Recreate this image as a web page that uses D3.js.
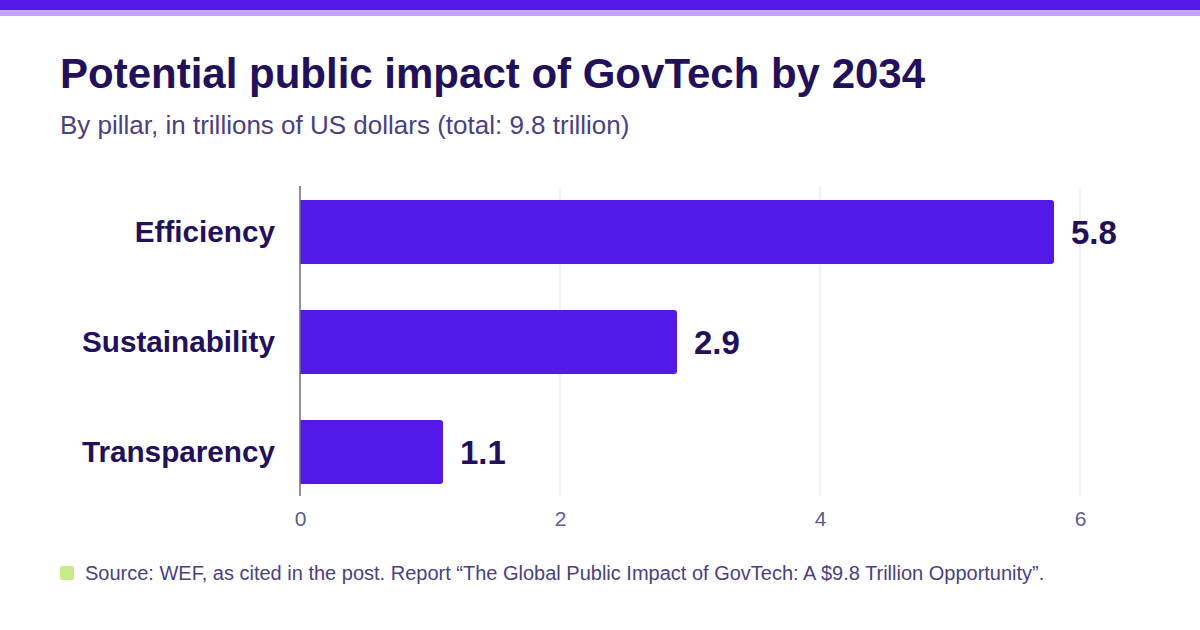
<!DOCTYPE html>
<html><head><meta charset="utf-8">
<script src="https://cdn.jsdelivr.net/npm/d3@7"></script>
<style>
html,body{margin:0;padding:0;background:#fff;}
svg{display:block;font-family:"Liberation Sans",Arial,Helvetica,sans-serif;}
</style></head>
<body>
<svg id="chart" width="1200" height="630"></svg>
<script>
const categories = ["Efficiency", "Sustainability", "Transparency"];
const values = [5.8, 2.9, 1.1];
const valueLabels = ["5.8", "2.9", "1.1"];
const xTicks = [0, 2, 4, 6];
const titleText = "Potential public impact of GovTech by 2034";
const subtitleText = "By pillar, in trillions of US dollars (total: 9.8 trillion)";
const sourceText = "Source: WEF, as cited in the post. Report \u201CThe Global Public Impact of GovTech: A $9.8 Trillion Opportunity\u201D.";

const svg = d3.select("#chart");
const W = 1200, H = 630;
svg.append("rect").attr("width", W).attr("height", H).attr("fill", "#fff");
svg.append("rect").attr("x", 0).attr("y", 0).attr("width", W).attr("height", 10).attr("fill", "#5418e8");
svg.append("rect").attr("x", 0).attr("y", 10).attr("width", W).attr("height", 6).attr("fill", "#c3a4f6");

svg.append("text").attr("x", 60).attr("y", 88).text(titleText)
  .attr("font-size", 42).attr("font-weight", "bold").attr("fill", "#22105a");
svg.append("text").attr("x", 60).attr("y", 134).text(subtitleText)
  .attr("font-size", 26).attr("fill", "#4b3f80");

const x = d3.scaleLinear().domain([0, 6]).range([300, 1080]);
const y = d3.scaleBand().domain(categories).range([154, 530]).paddingInner(0.418).paddingOuter(0.418);

const gridTop = 186, gridBottom = 496;
svg.append("g").selectAll("line").data(xTicks.filter(d => d !== 0)).join("line")
  .attr("x1", d => x(d)).attr("x2", d => x(d))
  .attr("y1", gridTop).attr("y2", gridBottom)
  .attr("stroke", "#ececf2").attr("stroke-width", 1.5);

const r = 3;
const bars = svg.append("g");
categories.forEach((c, i) => {
  const x0 = x(0), x1 = x(values[i]), y0 = y(c), h = y.bandwidth();
  const p = `M${x0},${y0}H${x1 - r}Q${x1},${y0} ${x1},${y0 + r}V${y0 + h - r}Q${x1},${y0 + h} ${x1 - r},${y0 + h}H${x0}Z`;
  bars.append("path").attr("d", p).attr("fill", "#5418e8");
});

svg.append("g").selectAll("text").data(categories).join("text")
  .attr("x", (c, i) => x(values[i]) + 17)
  .attr("y", c => y(c) + y.bandwidth() / 2)
  .attr("dy", "0.35em")
  .text((c, i) => valueLabels[i])
  .attr("font-size", 33).attr("font-weight", "bold").attr("fill", "#22105a");

svg.append("g").selectAll("text").data(categories).join("text")
  .attr("x", 275).attr("y", c => y(c) + y.bandwidth() / 2)
  .attr("dy", "0.35em").attr("text-anchor", "end")
  .text(c => c)
  .attr("font-size", 29.7).attr("font-weight", "bold").attr("fill", "#22105a");

svg.append("line").attr("x1", 300).attr("x2", 300).attr("y1", gridTop).attr("y2", gridBottom)
  .attr("stroke", "#6e6790").attr("stroke-width", 1.5);

const xAxis = d3.axisBottom(x).tickValues(xTicks).tickSize(0).tickFormat(d3.format("d"));
const gx = svg.append("g").attr("transform", `translate(0,${gridBottom + 12})`).call(xAxis);
gx.select(".domain").remove();
gx.selectAll("text").attr("font-size", 21).attr("fill", "#5f5a8c")
  .attr("font-family", "\"Liberation Sans\",Arial,sans-serif");

svg.append("rect").attr("x", 60).attr("y", 566).attr("width", 14).attr("height", 14).attr("rx", 2.5)
  .attr("fill", "#c6ec8a");
svg.append("text").attr("x", 85).attr("y", 580).text(sourceText)
  .attr("font-size", 20).attr("fill", "#4b3f80");
</script>
</body></html>
